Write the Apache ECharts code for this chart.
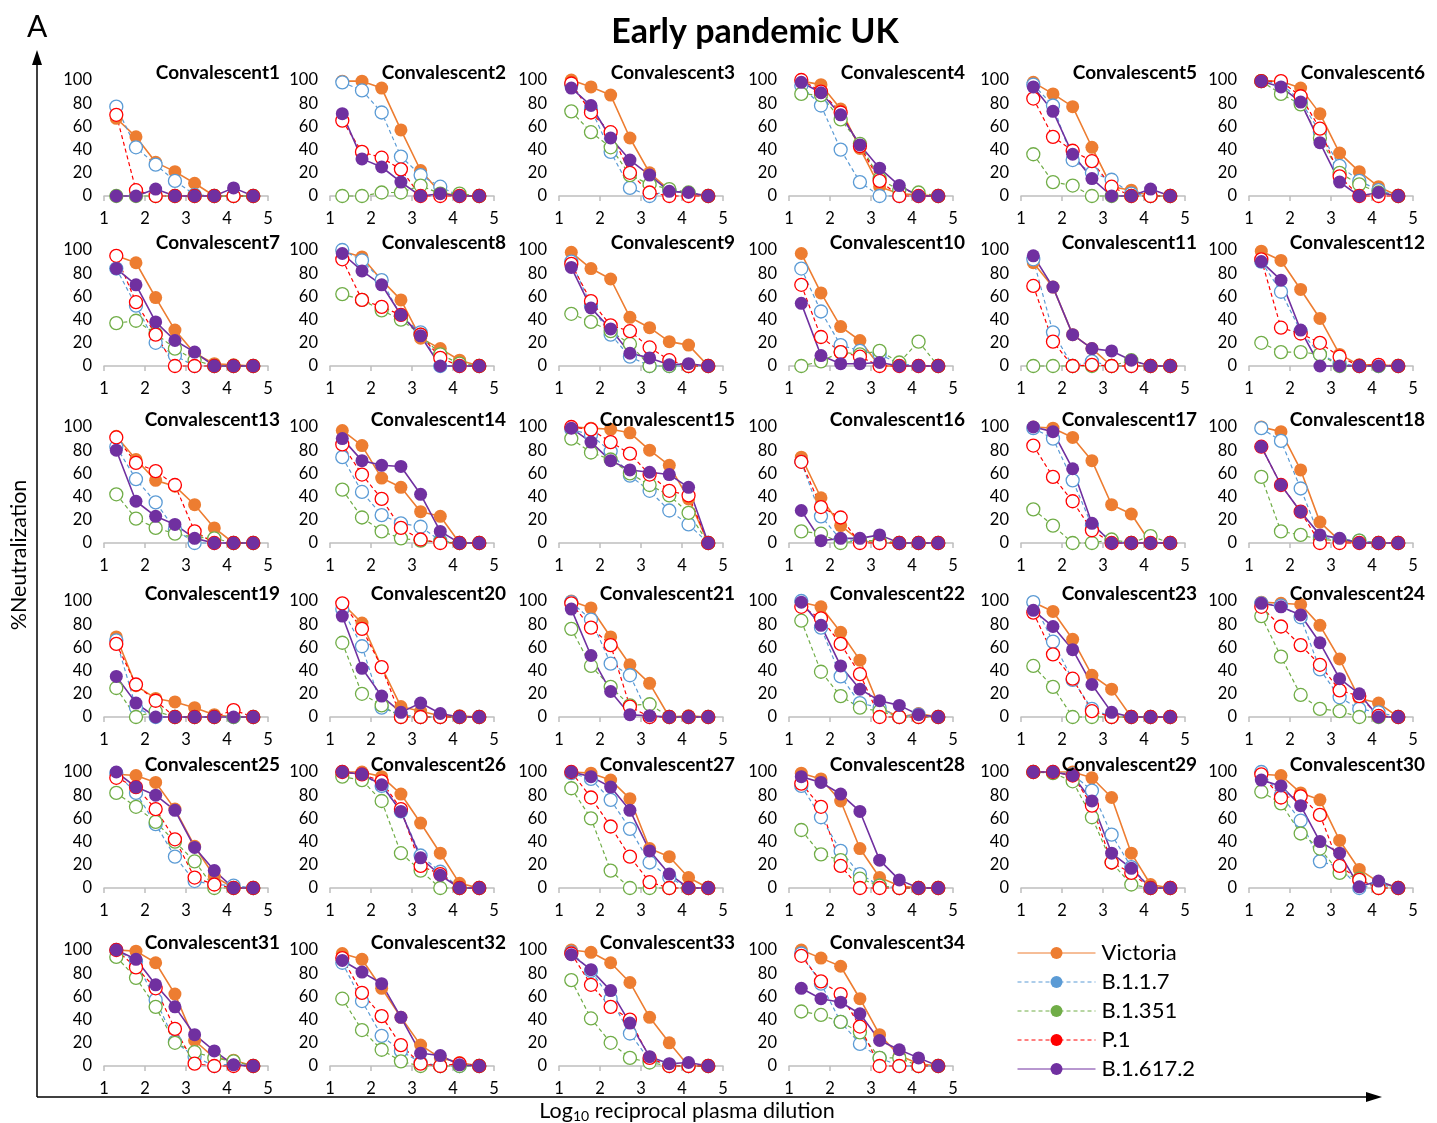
<!DOCTYPE html>
<html><head><meta charset="utf-8">
<script src="https://cdn.jsdelivr.net/npm/echarts@6/dist/echarts.min.js"></script>
<style>html,body{margin:0;padding:0;background:#fff}#c{width:1437px;height:1123px}</style>
</head><body><div id="c"></div>
<script>
// ---- data ----
const DILUTION_LOG10 = [1.30, 1.78, 2.26, 2.73, 3.21, 3.69, 4.16, 4.64];
const VARIANTS = ['Victoria', 'B.1.1.7', 'B.1.351', 'P.1', 'B.1.617.2'];
const PANEL_NAMES = ['Convalescent1','Convalescent2','Convalescent3','Convalescent4','Convalescent5','Convalescent6',
 'Convalescent7','Convalescent8','Convalescent9','Convalescent10','Convalescent11','Convalescent12',
 'Convalescent13','Convalescent14','Convalescent15','Convalescent16','Convalescent17','Convalescent18',
 'Convalescent19','Convalescent20','Convalescent21','Convalescent22','Convalescent23','Convalescent24',
 'Convalescent25','Convalescent26','Convalescent27','Convalescent28','Convalescent29','Convalescent30',
 'Convalescent31','Convalescent32','Convalescent33','Convalescent34'];

const VICTORIA = [
 [67,51,29,21,11,0,0,0],[99,99,93,57,22,3,0,0],[100,94,87,50,20,5,2,0],[99,96,75,41,8,2,1,0],[98,88,77,42,8,5,0,0],[99,99,93,71,37,21,8,0],
 [95,89,59,31,11,2,1,0],[99,94,74,57,24,15,5,0],[98,84,75,42,33,21,18,0],[97,63,34,22,0,0,0,0],[89,68,27,15,0,0,0,0],[99,91,66,41,10,1,1,0],
 [92,72,54,49,33,13,0,0],[97,84,56,48,27,23,0,0],[100,99,98,95,80,67,38,0],[74,39,15,2,0,0,0,0],[100,99,91,71,33,25,0,0],[100,96,63,18,2,0,0,0],
 [69,27,16,13,8,2,0,0],[98,81,43,9,5,1,1,0],[100,94,69,45,29,0,1,0],[99,95,73,49,8,0,3,0],[99,91,67,36,24,0,0,0],[99,98,97,79,50,16,12,0],
 [98,97,91,68,36,10,0,0],[100,100,96,81,56,30,4,0],[100,99,93,77,34,27,9,0],[99,94,75,34,9,2,0,0],[100,100,100,95,78,30,3,0],[98,97,82,76,41,16,5,0],
 [100,99,89,62,22,7,5,0],[97,92,67,42,18,7,3,0],[100,98,89,72,42,20,0,0],[100,93,86,58,27,9,2,0]];

const B117 = [
 [77,42,27,13,1,0,0,0],[98,91,72,34,18,8,0,0],[96,75,38,7,0,5,2,0],[95,78,40,12,0,0,0,0],[96,78,31,20,14,2,0,0],[99,97,82,55,26,13,5,0],
 [84,52,20,9,0,0,0,0],[100,91,74,43,29,0,0,0],[90,52,27,8,0,0,0,0],[84,47,18,13,10,2,0,0],[92,29,0,4,0,0,0,0],[90,64,30,10,2,0,0,0],
 [83,55,35,12,0,0,0,0],[74,44,24,17,14,2,0,0],[98,93,79,58,45,28,16,0],[70,23,3,2,0,0,0,0],[99,90,54,15,2,0,0,0],[99,88,47,5,3,2,0,0],
 [66,8,0,0,0,0,0,0],[93,61,8,2,0,0,0,0],[99,84,46,36,0,0,0,0],[100,77,35,12,8,0,2,0],[99,65,32,7,0,0,0,0],[98,96,86,41,17,7,4,0],
 [99,82,55,27,6,3,2,0],[100,98,88,66,28,14,0,0],[99,94,76,51,22,9,0,0],[88,61,32,12,2,0,0,0],[100,100,98,84,46,18,0,0],[100,80,58,23,18,0,3,0],
 [100,90,57,21,8,0,2,0],[89,56,26,13,3,0,0,0],[98,82,58,28,5,1,0,0],[97,71,38,19,7,0,0,0]];

const B1351 = [
 [0,0,0,0,0,0,0,0],[0,0,3,3,9,2,2,0],[73,55,42,18,10,6,3,0],[88,87,66,45,15,5,3,0],[36,12,9,0,0,0,0,0],[99,88,79,50,20,10,3,0],
 [37,39,28,15,5,0,0,0],[62,57,48,40,27,10,2,0],[45,38,30,19,0,0,0,0],[0,4,12,10,13,3,21,0],[0,0,0,0,0,5,0,0],[20,12,12,10,0,0,0,0],
 [42,21,13,8,5,4,0,0],[46,22,10,4,2,1,0,0],[90,78,72,60,50,41,26,0],[10,8,0,2,2,0,0,0],[29,15,0,0,3,0,6,0],[57,10,7,3,2,2,0,0],
 [25,0,5,0,0,0,0,0],[64,20,10,0,0,0,0,0],[76,44,26,10,11,0,0,0],[83,39,18,8,5,0,0,0],[44,26,0,0,0,0,0,0],[87,52,19,7,5,0,0,0],
 [82,70,57,40,23,0,0,0],[96,93,75,30,15,0,0,0],[86,60,15,0,0,0,0,0],[50,29,24,8,2,0,0,0],[100,99,92,61,22,3,0,0],[83,73,47,34,13,8,0,0],
 [94,76,51,20,12,7,4,0],[58,31,14,4,0,0,0,0],[74,41,20,7,3,0,0,0],[47,44,38,29,7,7,0,0]];

const P1 = [
 [70,5,0,0,0,0,0,0],[65,38,33,23,0,0,0,0],[97,72,55,20,3,0,0,0],[100,90,72,43,13,0,0,0],[84,51,39,30,8,0,0,0],[99,99,86,58,17,0,0,0],
 [95,55,27,0,0,0,0,0],[92,57,51,44,27,7,0,0],[88,56,35,30,16,5,0,0],[70,25,12,8,0,0,0,0],[69,21,0,1,0,0,0,0],[92,33,28,20,8,0,1,0],
 [91,69,62,50,10,0,0,0],[85,59,38,13,3,0,0,0],[100,98,87,77,59,45,41,0],[70,31,22,0,0,0,0,0],[84,57,36,11,0,0,0,0],[83,50,27,0,0,0,0,0],
 [63,28,14,0,0,0,6,0],[98,76,43,0,0,0,0,0],[98,77,62,9,0,0,0,0],[95,85,63,37,0,0,0,0],[90,54,33,5,0,0,0,0],[95,78,62,45,23,18,1,0],
 [95,87,68,42,9,3,0,0],[100,98,92,68,19,12,0,0],[100,78,53,27,5,0,0,0],[90,70,19,0,0,0,0,0],[100,100,97,71,22,13,0,0],[98,78,79,63,19,7,0,0],
 [100,85,67,32,2,0,0,0],[93,63,43,18,2,0,2,0],[97,70,51,40,7,0,0,0],[95,73,62,34,0,0,0,0]];

const B16172 = [
 [0,0,6,0,0,0,7,0],[71,32,25,12,0,2,0,0],[93,78,50,31,18,4,3,0],[98,89,70,44,24,9,0,0],[94,73,36,15,0,0,6,0],[99,94,81,46,12,0,3,0],
 [84,70,38,22,12,0,0,0],[97,82,70,44,26,0,0,0],[85,50,32,11,7,1,2,0],[54,9,2,2,3,0,0,0],[95,68,27,15,13,5,0,0],[90,74,31,0,0,0,0,0],
 [80,36,23,16,4,0,0,0],[90,71,67,66,42,10,0,0],[99,87,71,63,61,59,48,0],[28,2,4,4,7,0,0,0],[100,96,64,17,0,0,0,0],[83,50,27,7,4,0,0,0],
 [35,12,0,0,0,0,0,0],[87,42,18,4,12,3,0,0],[93,53,22,2,1,0,0,0],[99,79,44,24,14,10,2,0],[92,78,58,28,4,0,0,0],[98,95,88,64,33,20,0,0],
 [100,87,80,67,35,15,0,0],[100,98,89,66,26,11,0,0],[100,96,87,67,32,12,0,0],[96,91,81,66,24,7,0,0],[100,100,97,75,30,17,0,0],[93,88,71,40,30,1,6,0],
 [100,92,70,51,27,13,1,0],[91,81,71,42,11,9,1,0],[96,83,65,37,8,2,3,0],[67,58,55,45,22,14,7,0]];

const SERIES_VALUES = [VICTORIA, B117, B1351, P1, B16172];

// ---- styling / layout ----
const FONT = 'Lato, "Open Sans", sans-serif';
const STYLE = [
  {color:'#ED7D31', filled:true,  type:'solid', width:1.6},
  {color:'#5B9BD5', filled:false, type:[4,3],   width:1.2},
  {color:'#70AD47', filled:false, type:[4,3],   width:1.2},
  {color:'#FF0000', filled:false, type:[4,3],   width:1.2},
  {color:'#7030A0', filled:true,  type:'solid', width:1.6}
];
const COL_LEFT = [104, 330, 559, 789, 1021, 1249];
const ROW_TOP = [80, 250, 427, 601, 772, 950];
const GW = 164, GH = 116, W = 1437;

const grid = [], xAxis = [], yAxis = [], series = [], title = [];
PANEL_NAMES.forEach((name, i) => {
  const r = Math.floor(i / 6), c = i % 6;
  const left = COL_LEFT[c], top = ROW_TOP[r];
  grid.push({left: left, top: top, width: GW, height: GH});
  xAxis.push({
    gridIndex: i, type: 'value', min: 1, max: 5, interval: 1,
    axisLine: {show: true, onZero: false, lineStyle: {color: '#bfbfbf', width: 1.5}},
    axisTick: {show: true, length: 5, lineStyle: {color: '#bfbfbf', width: 1.5}},
    axisLabel: {fontSize: 16.5, color: '#000', margin: 14, fontFamily: FONT},
    splitLine: {show: false}
  });
  yAxis.push({
    gridIndex: i, type: 'value', min: 0, max: 100, interval: 20,
    axisLine: {show: false}, axisTick: {show: false}, splitLine: {show: false},
    axisLabel: {fontSize: 16.5, color: '#000', margin: 12, fontFamily: FONT}
  });
  title.push({
    text: name, right: W - (left + GW + 12), top: top - 18, padding: 0,
    textStyle: {fontSize: 19, fontWeight: 'bold', color: '#000', fontFamily: FONT, lineHeight: 22}
  });
  VARIANTS.forEach((v, k) => {
    const s = STYLE[k];
    series.push({
      name: v, type: 'line', xAxisIndex: i, yAxisIndex: i,
      data: DILUTION_LOG10.map((x, j) => [x, SERIES_VALUES[k][i][j]]),
      symbol: 'circle', symbolSize: 13, clip: false, animation: false, silent: true,
      lineStyle: {color: s.color, width: s.width, type: s.type},
      itemStyle: s.filled ? {color: s.color, borderWidth: 0}
                          : {color: '#fff', borderColor: s.color, borderWidth: 1.3}
    });
  });
});

const chart = echarts.init(document.getElementById('c'), null, {renderer: 'canvas'});
chart.setOption({
  backgroundColor: '#fff',
  animation: false,
  textStyle: {fontFamily: FONT},
  title: title,
  grid: grid, xAxis: xAxis, yAxis: yAxis, series: series,
  legend: {
    orient: 'vertical', left: 1012, top: 937, itemWidth: 78, itemHeight: 15, itemGap: 7,
    selectedMode: false,
    lineStyle: {width: 1},
    textStyle: {fontSize: 22, lineHeight: 22, color: '#000', fontFamily: FONT, padding: [0, 0, 0, 1]},
    data: VARIANTS.map((v, k) => ({name: v, itemStyle: {color: STYLE[k].color, borderColor: STYLE[k].color, borderWidth: 0}}))
  },
  graphic: [
    {type: 'text', left: 27, top: 12, style: {text: 'A', fontSize: 30, fill: '#000', fontFamily: FONT}},
    {type: 'text', x: 755, y: 32, style: {text: 'Early pandemic UK', fontSize: 34, fontWeight: 'bold', fill: '#000', fontFamily: FONT, align: 'center', verticalAlign: 'middle'}},
    {type: 'line', shape: {x1: 37, y1: 1097, x2: 37, y2: 60}, style: {stroke: '#000', lineWidth: 1.5}},
    {type: 'polygon', shape: {points: [[37, 50], [32, 65], [42, 65]]}, style: {fill: '#000'}},
    {type: 'line', shape: {x1: 37, y1: 1097, x2: 1370, y2: 1097}, style: {stroke: '#000', lineWidth: 1.5}},
    {type: 'polygon', shape: {points: [[1382, 1097], [1366, 1092], [1366, 1102]]}, style: {fill: '#000'}},
    {type: 'text', x: 19, y: 555, rotation: Math.PI / 2, style: {text: '%Neutralization', fontSize: 21.5, fill: '#000', fontFamily: FONT, align: 'center', verticalAlign: 'middle'}},
    {type: 'text', x: 687, y: 1111, style: {
      text: '{a|Log}{s|10}{a| reciprocal plasma dilution}', align: 'center', verticalAlign: 'middle',
      rich: {a: {fontSize: 21.5, fill: '#000', fontFamily: FONT}, s: {fontSize: 14, fill: '#000', fontFamily: FONT, padding: [10, 0, 0, 0]}}
    }}
  ]
});
</script></body></html>
